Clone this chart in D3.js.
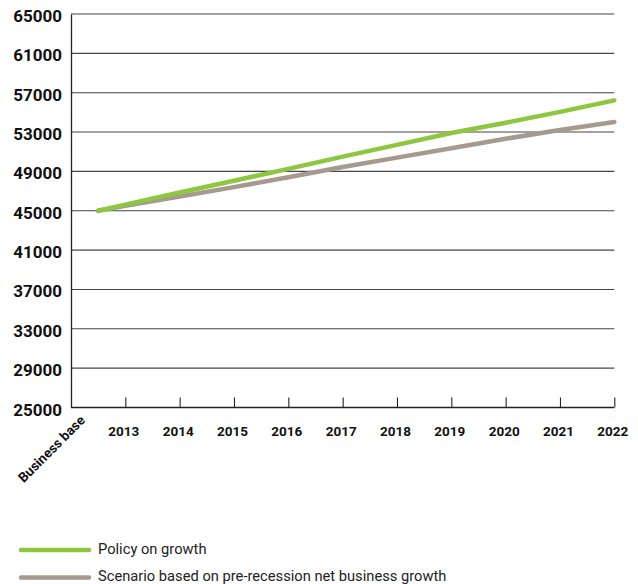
<!DOCTYPE html>
<html>
<head>
<meta charset="utf-8">
<script src="https://cdn.jsdelivr.net/npm/d3@7/dist/d3.min.js"></script>
<style>
  html, body { margin: 0; padding: 0; background: #fff; }
  svg { display: block; }
  text { font-family: Roboto, "Liberation Sans", Arial, sans-serif; }
</style>
</head>
<body>
<svg id="chart" width="638" height="584"></svg>
<script>
// ---- data ----
const categories = ["Business base", "2013", "2014", "2015", "2016", "2017", "2018", "2019", "2020", "2021", "2022"];
const policyGrowth = [45000, 45620, 46850, 48050, 49260, 50500, 51700, 52900, 53950, 55050, 56220];
const preRecession = [45000, 45500, 46450, 47400, 48400, 49450, 50400, 51350, 52320, 53200, 54020];
const yTicks = [25000, 29000, 33000, 37000, 41000, 45000, 49000, 53000, 57000, 61000, 65000];
const seriesNames = ["Policy on growth", "Scenario based on pre-recession net business growth"];
const seriesColors = ["#8dc63f", "#a69a8f"];

// ---- layout ----
const svg = d3.select("#chart");
const mLeft = 71, mRight = 614.3, mTop = 14, mBottom = 407.5;

const x = d3.scaleLinear().domain([0, categories.length - 1]).range([mLeft, mRight]);
const xPos = i => i === 0 ? x(0.5) : x(i);
const y = d3.scaleLinear().domain([25000, 65000]).range([mBottom, mTop]);

// gridlines
svg.append("g")
  .selectAll("line")
  .data(yTicks.filter(d => d !== 25000))
  .join("line")
  .attr("x1", mLeft).attr("x2", mRight)
  .attr("y1", d => y(d)).attr("y2", d => y(d))
  .attr("stroke", "#444").attr("stroke-width", 1.1);

// y axis
const yAxis = svg.append("g")
  .attr("transform", `translate(${mLeft},0)`)
  .call(d3.axisLeft(y).tickValues(yTicks).tickSize(0).tickPadding(9).tickFormat(d3.format("d")));
yAxis.select(".domain").attr("stroke", "#222").attr("stroke-width", 1.3);
yAxis.selectAll("text")
  .attr("dy", "0.62em")
  .attr("y", -3)
  .style("font-family", "Roboto, sans-serif")
  .style("font-weight", "700")
  .style("font-size", "17px")
  .attr("fill", "#111");

// x axis
const years = d3.range(1, categories.length);
const xAxis = svg.append("g")
  .attr("transform", `translate(0,${mBottom})`)
  .call(d3.axisBottom(x).tickValues(years).tickSizeInner(-10).tickSizeOuter(0)
        .tickPadding(13).tickFormat(i => categories[i]));
xAxis.select(".domain").attr("stroke", "#222").attr("stroke-width", 1.3)
  .attr("d", `M${mLeft},0H${mRight}`);
xAxis.selectAll(".tick line").attr("stroke", "#222").attr("stroke-width", 1.1);
xAxis.selectAll(".tick text")
  .attr("dx", "-2")
  .attr("y", 19)
  .style("font-family", "Roboto, sans-serif")
  .style("font-weight", "700")
  .style("font-size", "13.5px")
  .attr("fill", "#111");

// rotated first category label
svg.append("text")
  .attr("transform", `translate(${x(0.5) - 19},${mBottom + 7}) rotate(-45)`)
  .attr("text-anchor", "end")
  .attr("dy", "0.7em")
  .style("font-weight", "700")
  .style("font-size", "13.5px")
  .attr("fill", "#111")
  .text(categories[0]);

// lines
const line = d3.line().x((d, i) => xPos(i)).y(d => y(d));
[[preRecession, seriesColors[1]], [policyGrowth, seriesColors[0]]].forEach(([vals, color]) => {
  svg.append("path")
    .datum(vals)
    .attr("d", line)
    .attr("fill", "none")
    .attr("stroke", color)
    .attr("stroke-width", 4.5)
    .attr("stroke-linecap", "round")
    .attr("stroke-linejoin", "round");
});

// legend
const legend = svg.append("g");
seriesNames.forEach((name, i) => {
  const ly = 550 + i * 27.5;
  legend.append("line")
    .attr("x1", 21).attr("x2", 89)
    .attr("y1", ly).attr("y2", ly)
    .attr("stroke", seriesColors[i]).attr("stroke-width", 4.5)
    .attr("stroke-linecap", "round");
  legend.append("text")
    .attr("x", 98).attr("y", ly + 3.5)
    .style("font-size", "14.7px")
    .attr("fill", "#222")
    .text(name);
});
</script>
</body>
</html>
